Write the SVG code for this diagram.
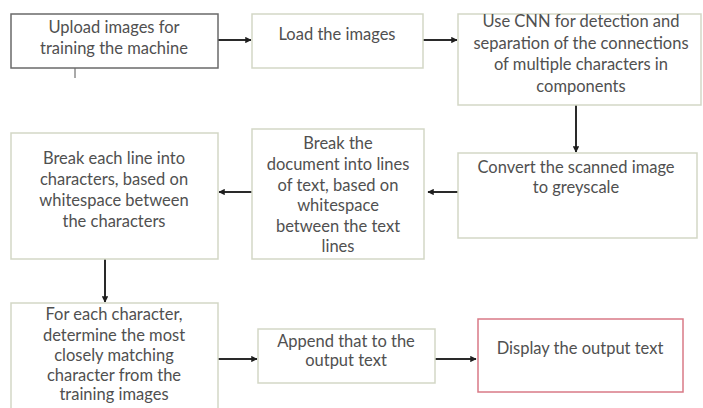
<svg xmlns="http://www.w3.org/2000/svg" width="703" height="408" viewBox="0 0 703 408">
<style>
.box{fill:#ffffff;stroke:#d3d7c6;stroke-width:1.5}
.dark{stroke:#6a6a6a}
.red{stroke:#d97a86}
.t{font-family:Lato,"Open Sans","Liberation Sans",sans-serif;font-size:16.5px;fill:#505050;text-anchor:middle}
.c{stroke:#2a2a2a;stroke-width:2;fill:none}
</style>
<defs>
<marker id="ah" viewBox="0 0 10 10" refX="9" refY="5" markerWidth="3.2" markerHeight="3.2" orient="auto" markerUnits="strokeWidth">
<path d="M0,0 L10,5 L0,10 z" fill="#1e1e1e"/>
</marker>
</defs>
<rect width="703" height="408" fill="#ffffff"/>
<g id="connectors">
<line class="c" x1="218" y1="40" x2="251" y2="40" marker-end="url(#ah)"/>
<line class="c" x1="423" y1="40" x2="457" y2="40" marker-end="url(#ah)"/>
<line class="c" x1="576" y1="105" x2="576" y2="152" marker-end="url(#ah)"/>
<line class="c" x1="458" y1="192" x2="428" y2="192" marker-end="url(#ah)"/>
<line class="c" x1="252" y1="192" x2="219" y2="192" marker-end="url(#ah)"/>
<line class="c" x1="105" y1="259" x2="105" y2="302" marker-end="url(#ah)"/>
<line class="c" x1="218" y1="359" x2="257" y2="359" marker-end="url(#ah)"/>
<line class="c" x1="435" y1="359" x2="476" y2="359" marker-end="url(#ah)"/>
<line x1="75" y1="68" x2="75" y2="78" stroke="#555" stroke-width="1"/>
</g>
<g id="n1">
<rect class="box dark" x="11" y="14" width="207" height="54"/>
<text class="t" x="114" y="33">Upload images for</text>
<text class="t" x="114" y="54">training the machine</text>
</g>
<g id="n2">
<rect class="box" x="252" y="14" width="171" height="54"/>
<text class="t" x="337" y="40">Load the images</text>
</g>
<g id="n3">
<rect class="box" x="458" y="14" width="243" height="91"/>
<text class="t" x="581" y="27">Use CNN for detection and</text>
<text class="t" x="581" y="48.5">separation of the connections</text>
<text class="t" x="581" y="70">of multiple characters in</text>
<text class="t" x="581" y="92">components</text>
</g>
<g id="n4">
<rect class="box" x="458" y="153" width="239" height="85"/>
<text class="t" x="576" y="173">Convert the scanned image</text>
<text class="t" x="576" y="193">to greyscale</text>
</g>
<g id="n5">
<rect class="box" x="252" y="129" width="172" height="130"/>
<text class="t" x="338" y="149">Break the</text>
<text class="t" x="338" y="170">document into lines</text>
<text class="t" x="338" y="190.5">of text, based on</text>
<text class="t" x="338" y="211">whitespace</text>
<text class="t" x="338" y="231.5">between the text</text>
<text class="t" x="338" y="252">lines</text>
</g>
<g id="n6">
<rect class="box" x="11" y="133" width="207" height="126"/>
<text class="t" x="114" y="164">Break each line into</text>
<text class="t" x="114" y="185">characters, based on</text>
<text class="t" x="114" y="206">whitespace between</text>
<text class="t" x="114" y="227">the characters</text>
</g>
<g id="n7">
<rect class="box" x="11" y="303" width="207" height="110"/>
<text class="t" x="114" y="320">For each character,</text>
<text class="t" x="114" y="340.5">determine the most</text>
<text class="t" x="114" y="361">closely matching</text>
<text class="t" x="114" y="380.5">character from the</text>
<text class="t" x="114" y="400">training images</text>
</g>
<g id="n8">
<rect class="box" x="258" y="329" width="177" height="54"/>
<text class="t" x="346" y="347">Append that to the</text>
<text class="t" x="346" y="366">output text</text>
</g>
<g id="n9">
<rect class="box red" x="478" y="319" width="205" height="73"/>
<text class="t" x="580" y="354">Display the output text</text>
</g>
</svg>
